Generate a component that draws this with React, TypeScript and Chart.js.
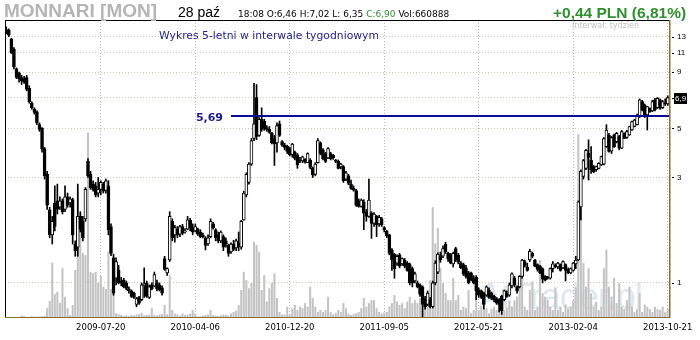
import React, { useEffect, useRef } from 'react';
import { Chart, registerables } from 'chart.js';

Chart.register(...registerables);

// ---- data (weekly candles, oldest first) ----
const START_DATE = '2008-11-03';

const OPEN = [
  14.0, 13.9, 12.7, 11.4, 9.3, 8.9, 8.5, 8.4, 8.5, 7.6,
  6.5, 6.1, 5.95, 5.2, 5.0, 4.05, 3.1, 2.14, 1.65, 2.3,
  2.35, 2.2, 2.35, 2.15, 2.45, 2.3, 2.38, 1.5, 1.45, 2.0,
  1.9, 1.95, 3.55, 3.1, 2.8, 2.75, 2.55, 2.65, 2.8, 2.62,
  2.75, 1.8, 1.3, 1.05, 1.14, 1.02, 1.03, 1.0, 0.94, 0.92,
  0.9, 0.8, 0.86, 0.84, 0.97, 1.0, 0.86, 0.98, 0.97, 1.0,
  0.98, 0.95, 1.29, 1.11, 1.27, 1.9, 1.65, 1.75, 1.66, 1.8,
  1.7, 1.75, 1.92, 1.78, 1.72, 1.75, 1.7, 1.65, 1.6, 1.5,
  1.62, 1.85, 1.74, 1.65, 1.55, 1.62, 1.55, 1.48, 1.38, 1.5,
  1.44, 1.52, 1.45, 1.93, 2.5, 2.85, 3.45, 4.5, 6.9, 4.65,
  5.5, 5.4, 5.05, 4.95, 4.75, 4.5, 4.3, 5.25, 4.36, 4.2,
  4.15, 4.05, 3.8, 3.9, 3.8, 3.6, 3.56, 3.62, 3.5, 3.6,
  3.3, 3.1, 3.5, 4.3, 4.0, 3.85, 3.68, 3.85, 3.78, 3.6,
  3.55, 3.35, 3.36, 2.95, 3.05, 2.8, 2.68, 2.62, 2.35, 2.22,
  2.32, 2.1, 2.0, 2.07, 1.86, 2.0, 1.85, 1.95, 1.78, 1.71,
  1.65, 1.41, 1.35, 1.23, 1.34, 1.22, 1.27, 1.23, 1.21, 1.16,
  1.02, 1.0, 0.98, 0.96, 0.85, 0.8, 0.84, 0.78, 1.0, 1.12,
  1.33, 1.32, 1.5, 1.36, 1.34, 1.22, 1.43, 1.34, 1.23, 1.21,
  1.17, 1.11, 1.11, 1.05, 1.06, 0.93, 0.92, 0.9, 0.88, 0.93,
  0.9, 0.87, 0.85, 0.84, 0.87, 0.84, 0.9, 0.88, 0.97, 1.05,
  0.96, 0.96, 1.07, 1.25, 1.18, 1.27, 1.36, 1.27, 1.21, 1.19,
  1.16, 1.07, 1.06, 1.05, 1.16, 1.2, 1.18, 1.21, 1.17, 1.21,
  1.15, 1.11, 1.14, 1.22, 1.27, 2.21, 3.03, 3.3, 3.86, 3.6,
  3.36, 3.25, 3.3, 3.42, 3.45, 4.14, 4.67, 3.95, 4.67, 4.36,
  4.59, 4.07, 4.75, 4.55, 4.67, 4.92, 5.1, 5.2, 5.66, 6.62,
  6.39, 5.76, 6.17, 6.0, 6.73, 6.2, 6.73, 6.2, 6.5, 6.46,
];

const HIGH = [
  14.4, 14.1, 12.8, 11.6, 9.4, 9.0, 8.7, 8.6, 8.7, 7.8,
  6.6, 6.2, 6.0, 5.3, 5.05, 4.1, 3.2, 2.2, 2.0, 2.75,
  2.8, 2.45, 2.4, 2.75, 2.55, 2.45, 2.42, 1.55, 2.8, 2.1,
  2.0, 2.7, 3.65, 3.2, 2.9, 2.85, 3.0, 2.9, 2.85, 2.95,
  2.9, 1.85, 1.35, 1.3, 1.2, 1.06, 1.05, 1.02, 0.96, 0.93,
  0.91, 0.86, 0.87, 1.0, 1.17, 1.02, 0.98, 1.0, 1.12, 1.03,
  1.0, 0.97, 1.32, 1.17, 2.1, 1.95, 1.82, 1.8, 1.82, 1.84,
  1.76, 2.0, 1.96, 1.85, 1.85, 1.77, 1.74, 1.68, 1.62, 1.65,
  1.95, 1.88, 1.76, 1.7, 1.72, 1.65, 1.6, 1.5, 1.52, 1.56,
  1.58, 1.7, 1.92, 2.6, 3.15, 3.5, 4.5, 8.0, 7.9, 5.6,
  6.2, 5.5, 5.15, 5.1, 4.8, 4.65, 5.3, 5.4, 4.4, 4.28,
  4.2, 4.1, 4.28, 3.95, 3.85, 3.7, 3.75, 3.65, 3.88, 3.65,
  3.35, 3.5, 4.5, 4.35, 4.05, 3.9, 4.1, 3.9, 3.82, 3.62,
  3.6, 3.48, 3.4, 3.2, 3.1, 2.92, 2.75, 2.65, 2.4, 2.4,
  2.38, 2.15, 2.95, 2.1, 2.08, 2.02, 2.02, 1.98, 1.8, 1.73,
  1.66, 1.43, 1.36, 1.34, 1.36, 1.3, 1.29, 1.25, 1.23, 1.18,
  1.12, 1.02, 0.99, 0.97, 0.87, 0.92, 0.86, 1.02, 1.26, 1.37,
  1.38, 1.47, 1.53, 1.38, 1.36, 1.38, 1.45, 1.36, 1.25, 1.23,
  1.2, 1.13, 1.12, 1.08, 1.08, 0.95, 0.93, 0.91, 0.97, 0.95,
  0.91, 0.88, 0.86, 0.85, 0.88, 0.93, 0.92, 1.0, 1.11, 1.07,
  0.97, 1.08, 1.28, 1.27, 1.23, 1.42, 1.38, 1.28, 1.22, 1.2,
  1.17, 1.08, 1.07, 1.17, 1.25, 1.22, 1.24, 1.22, 1.26, 1.22,
  1.17, 1.17, 1.24, 1.32, 2.35, 3.25, 3.62, 4.02, 4.44, 4.14,
  3.4, 3.38, 3.5, 3.75, 4.55, 5.2, 4.75, 4.6, 4.72, 4.8,
  4.65, 4.9, 4.78, 4.9, 5.12, 5.4, 5.5, 5.8, 6.8, 6.7,
  6.45, 6.3, 6.2, 6.7, 6.85, 6.9, 6.8, 6.7, 6.8, 7.02,
];

const LOW = [
  13.4, 13.0, 10.9, 9.3, 8.4, 8.1, 7.9, 8.0, 7.4, 6.5,
  6.1, 5.8, 5.2, 4.85, 3.9, 2.95, 2.15, 1.6, 1.5, 1.72,
  2.05, 2.15, 2.05, 2.1, 2.2, 2.2, 1.5, 1.32, 1.32, 1.7,
  1.55, 1.9, 3.0, 2.65, 2.6, 2.45, 2.45, 2.5, 2.55, 2.55,
  1.65, 1.33, 0.88, 0.98, 0.99, 0.97, 0.95, 0.93, 0.9, 0.86,
  0.85, 0.78, 0.8, 0.83, 0.86, 0.86, 0.85, 0.93, 0.96, 0.92,
  0.92, 0.88, 1.14, 1.08, 1.25, 1.55, 1.53, 1.6, 1.62, 1.65,
  1.68, 1.74, 1.72, 1.65, 1.7, 1.64, 1.6, 1.6, 1.41, 1.48,
  1.6, 1.75, 1.55, 1.52, 1.52, 1.4, 1.45, 1.32, 1.36, 1.4,
  1.4, 1.4, 1.42, 1.92, 2.45, 2.8, 3.4, 4.4, 4.45, 4.6,
  4.85, 4.9, 4.85, 4.75, 4.25, 3.4, 3.9, 4.6, 4.15, 4.0,
  3.85, 3.75, 3.7, 3.6, 3.3, 3.5, 3.5, 3.48, 3.5, 3.28,
  3.0, 3.05, 3.48, 3.8, 3.6, 3.5, 3.65, 3.6, 3.62, 3.5,
  3.28, 3.28, 2.85, 2.9, 2.78, 2.65, 2.6, 2.22, 2.2, 2.2,
  1.74, 1.9, 1.98, 1.59, 1.8, 1.62, 1.8, 1.8, 1.7, 1.6,
  1.34, 1.14, 1.05, 1.2, 1.17, 1.2, 1.17, 1.13, 0.98, 0.96,
  1.0, 0.95, 0.87, 0.7, 0.76, 0.79, 0.77, 0.77, 0.98, 1.1,
  1.24, 1.3, 1.36, 1.25, 1.22, 1.18, 1.25, 1.22, 1.16, 1.08,
  1.05, 0.99, 1.02, 0.99, 0.84, 0.86, 0.85, 0.76, 0.87, 0.85,
  0.84, 0.82, 0.8, 0.74, 0.72, 0.83, 0.86, 0.87, 0.95, 0.96,
  0.9, 0.95, 1.05, 1.18, 1.13, 1.25, 1.3, 1.18, 1.13, 1.1,
  1.0, 1.02, 1.04, 1.04, 1.12, 1.17, 1.16, 1.13, 1.16, 1.02,
  1.1, 1.1, 1.13, 1.16, 1.26, 1.93, 2.95, 3.25, 2.92, 3.13,
  3.15, 3.2, 3.28, 3.4, 3.42, 4.1, 3.9, 3.85, 4.1, 4.3,
  4.0, 4.05, 4.5, 4.5, 4.65, 4.9, 5.08, 5.18, 5.6, 6.0,
  5.6, 4.92, 5.9, 5.95, 6.0, 6.15, 6.1, 6.15, 6.35, 6.35,
];

const CLOSE = [
  13.6, 13.2, 11.0, 9.5, 8.5, 8.4, 8.2, 8.1, 7.5, 6.6,
  6.2, 5.9, 5.3, 4.95, 4.05, 3.05, 2.25, 1.65, 1.9, 1.8,
  2.15, 2.35, 2.1, 2.45, 2.25, 2.4, 1.65, 1.4, 2.0, 1.75,
  1.6, 2.65, 3.05, 2.7, 2.65, 2.5, 2.65, 2.85, 2.6, 2.9,
  1.74, 1.36, 0.9, 1.25, 1.0, 1.0, 0.96, 0.945, 0.92, 0.87,
  0.86, 0.85, 0.81, 0.98, 0.99, 0.87, 0.96, 0.94, 1.09, 0.94,
  0.93, 0.9, 1.15, 1.16, 2.0, 1.6, 1.78, 1.65, 1.8, 1.68,
  1.72, 1.93, 1.78, 1.7, 1.8, 1.66, 1.62, 1.62, 1.48, 1.6,
  1.9, 1.78, 1.6, 1.55, 1.7, 1.45, 1.5, 1.36, 1.5, 1.42,
  1.55, 1.45, 1.9, 2.55, 3.1, 3.45, 4.4, 5.25, 4.6, 5.5,
  4.95, 5.0, 4.95, 4.8, 4.3, 4.25, 5.15, 4.65, 4.2, 4.1,
  3.93, 3.8, 4.25, 3.66, 3.42, 3.56, 3.72, 3.52, 3.85, 3.33,
  3.08, 3.45, 4.4, 3.85, 3.65, 3.55, 4.05, 3.65, 3.68, 3.55,
  3.3, 3.45, 2.9, 3.15, 2.82, 2.68, 2.63, 2.25, 2.22, 2.37,
  2.07, 2.0, 2.37, 1.86, 2.05, 1.83, 1.98, 1.83, 1.74, 1.63,
  1.36, 1.27, 1.16, 1.32, 1.19, 1.29, 1.19, 1.14, 1.0, 1.0,
  1.1, 0.96, 0.89, 0.8, 0.78, 0.9, 0.78, 1.0, 1.23, 1.35,
  1.27, 1.43, 1.38, 1.28, 1.23, 1.36, 1.27, 1.24, 1.17, 1.1,
  1.07, 1.0, 1.03, 1.0, 0.92, 0.88, 0.86, 0.8, 0.96, 0.86,
  0.85, 0.84, 0.81, 0.8, 0.75, 0.92, 0.87, 0.98, 1.1, 0.98,
  0.92, 1.07, 1.27, 1.19, 1.14, 1.39, 1.32, 1.19, 1.15, 1.11,
  1.04, 1.03, 1.05, 1.16, 1.22, 1.18, 1.23, 1.14, 1.25, 1.14,
  1.11, 1.16, 1.23, 1.27, 2.33, 3.2, 3.58, 3.98, 3.7, 3.25,
  3.19, 3.36, 3.48, 3.73, 4.5, 4.92, 3.93, 4.55, 4.14, 4.75,
  4.07, 4.84, 4.51, 4.84, 5.1, 5.37, 5.46, 5.72, 6.73, 6.06,
  5.66, 6.28, 5.95, 6.62, 6.06, 6.85, 6.17, 6.62, 6.45, 6.9,
];

// volume, in units where VOLUME_MAX fills the whole plot height
const VOLUME = [
  2, 2, 2, 3, 2, 3, 8, 6, 2, 5,
  6, 4, 5, 5, 6, 8, 33, 57, 186, 80,
  88, 51, 168, 71, 33, 10, 44, 161, 427, 352,
  218, 211, 623, 155, 150, 155, 118, 141, 105, 97,
  222, 97, 105, 16, 13, 10, 7, 9, 7, 10,
  8, 12, 13, 18, 9, 10, 12, 33, 10, 8,
  12, 14, 44, 12, 144, 27, 15, 12, 8, 15,
  10, 12, 15, 27, 15, 5, 6, 8, 10, 12,
  27, 10, 8, 7, 9, 12, 10, 8, 15, 20,
  25, 44, 94, 155, 127, 100, 117, 256, 245, 222,
  94, 144, 55, 100, 117, 150, 67, 20, 12, 12,
  38, 12, 33, 44, 27, 38, 33, 50, 38, 105,
  67, 38, 20, 27, 20, 27, 71, 20, 12, 18,
  27, 20, 50, 33, 15, 10, 13, 16, 20, 33,
  67, 38, 50, 60, 60, 33, 20, 15, 18, 20,
  38, 50, 77, 55, 44, 50, 33, 55, 71, 50,
  60, 50, 67, 44, 60, 84, 127, 372, 251, 302,
  168, 117, 84, 60, 60, 134, 60, 77, 27, 38,
  33, 94, 16, 27, 94, 27, 40, 27, 33, 16,
  30, 38, 27, 38, 60, 27, 33, 60, 38, 60,
  72, 105, 139, 38, 27, 94, 122, 27, 38, 195,
  83, 72, 60, 38, 27, 103, 27, 38, 20, 45,
  30, 38, 60, 103, 617, 369, 184, 105, 167, 83,
  38, 55, 27, 38, 167, 230, 105, 72, 134, 50,
  117, 38, 30, 60, 105, 38, 20, 30, 83, 20,
  45, 38, 30, 20, 38, 30, 27, 38, 20, 30,
];
const VOLUME_MAX = 1000;

const TICK_INDEX = [37, 74, 111, 148, 185, 222, 259];
const TICK_LABELS = ['2009-07-20', '2010-04-06', '2010-12-20', '2011-09-05', '2012-05-21', '2013-02-04', '2013-10-21'];
const PRICE_TICKS = [1, 3, 5, 6.9, 9, 11, 13];
const PRICE_MIN = 0.694;
const PRICE_MAX = 15.47;

const LEVEL_VALUE = 5.69;
const LEVEL_LABEL = '5,69';
const LEVEL_FROM_INDEX = 88;
const LAST_LABEL = '6,9';

const CATEGORIES = OPEN.map((_, i) => {
  const d = new Date(START_DATE + 'T00:00:00Z');
  d.setUTCDate(d.getUTCDate() + 7 * i);
  return d.toISOString().slice(0, 10);
});

const decorPlugin = {
  id: 'decor',
  afterDatasetsDraw(chart: any) {
    const { ctx, chartArea: a, scales } = chart;
    const ys = scales.y;
    const xs = scales.x;
    const ly = ys.getPixelForValue(LEVEL_VALUE);
    const lx = xs.getPixelForValue(LEVEL_FROM_INDEX);
    ctx.save();
    ctx.fillStyle = '#0b0b98';
    ctx.fillRect(lx, Math.round(ly) - 1, a.right - lx, 2);
    ctx.font = 'bold 11px "DejaVu Sans"';
    ctx.textAlign = 'right';
    ctx.textBaseline = 'alphabetic';
    ctx.fillStyle = '#1c1c8e';
    ctx.fillText(LEVEL_LABEL, lx - 8, Math.round(ly) + 5);
    ctx.restore();
  },
  afterDraw(chart: any) {
    const { ctx, chartArea: a, scales } = chart;
    const ys = scales.y;
    ctx.save();
    // frame
    ctx.fillStyle = '#000';
    ctx.fillRect(a.left, a.top, a.right - a.left, 1);
    ctx.fillRect(a.left, a.top, 1, a.bottom - a.top);
    ctx.fillStyle = '#8e6d2c';
    ctx.fillRect(a.left, a.bottom - 1, a.right - a.left + 1, 1);
    ctx.fillRect(a.right, a.top, 1.5, a.bottom - a.top);
    // tick marks on the right axis
    ctx.fillStyle = '#000';
    for (const t of ys.ticks) {
      const py = Math.round(ys.getPixelForValue(t.value));
      ctx.fillRect(a.right + 3, py, 2, 1);
    }
    // last price box
    const last = CLOSE[CLOSE.length - 1];
    const py = Math.round(ys.getPixelForValue(last));
    ctx.fillStyle = '#000';
    ctx.fillRect(a.right + 5, py - 5, 13, 11);
    ctx.fillStyle = '#fff';
    ctx.font = '8px "Liberation Sans"';
    ctx.textAlign = 'left';
    ctx.textBaseline = 'alphabetic';
    ctx.fillText(LAST_LABEL, a.right + 6, py + 3);
    ctx.restore();
  },
};

export default function App() {
  const ref = useRef<HTMLCanvasElement>(null);

  useEffect(() => {
    document.body.style.margin = '0';
    Chart.defaults.font.family = '"DejaVu Sans", sans-serif';
    const wick = LOW.map((l, i) => [l, HIGH[i]]);
    const body = OPEN.map((o, i) => [Math.min(o, CLOSE[i]), Math.max(o, CLOSE[i])]);
    const bodyColor = OPEN.map((o, i) => (CLOSE[i] >= o ? '#ffffff' : '#000000'));

    const chart = new Chart(ref.current as HTMLCanvasElement, {
      type: 'bar',
      data: {
        labels: CATEGORIES,
        datasets: [
          {
            label: 'Wolumen',
            data: VOLUME,
            yAxisID: 'yv',
            backgroundColor: '#c3c3c3',
            borderWidth: 0,
            categoryPercentage: 1,
            barPercentage: 0.8,
            grouped: false,
            order: 3,
          } as any,
          {
            label: 'Zakres',
            data: wick,
            yAxisID: 'y',
            backgroundColor: '#000',
            barThickness: 1,
            grouped: false,
            order: 2,
          } as any,
          {
            label: 'Kurs',
            data: body,
            yAxisID: 'y',
            backgroundColor: bodyColor,
            borderColor: '#000',
            borderWidth: 1,
            borderSkipped: false,
            barThickness: 3,
            minBarLength: 1,
            grouped: false,
            order: 1,
          } as any,
        ],
      },
      options: {
        responsive: false,
        animation: false,
        devicePixelRatio: 1,
        layout: { padding: { left: 5, top: 20, right: 0, bottom: 0 } },
        plugins: { legend: { display: false }, tooltip: { enabled: false } },
        scales: {
          x: {
            type: 'category',
            offset: true,
            grid: { display: true, offset: false, color: '#b8b8b8', drawTicks: false, lineWidth: 1 },
            border: { display: false, dash: [1, 2] },
            ticks: {
              autoSkip: false,
              maxRotation: 0,
              minRotation: 0,
              color: '#000',
              padding: 5,
              font: { size: 8.5, family: '"DejaVu Sans"' },
              callback: (v: any) => {
                const k = TICK_INDEX.indexOf(Number(v));
                return k >= 0 ? TICK_LABELS[k] : '';
              },
            },
            afterBuildTicks: (s: any) => {
              s.ticks = TICK_INDEX.map((v) => ({ value: v }));
            },
            afterFit: (s: any) => {
              s.height = 22;
            },
          } as any,
          y: {
            type: 'logarithmic',
            position: 'right',
            min: PRICE_MIN,
            max: PRICE_MAX,
            grid: { color: '#d8cbab', drawTicks: false, lineWidth: 1 },
            border: { display: false, dash: [1, 2] },
            ticks: {
              color: '#000',
              padding: 8,
              font: { size: 8, family: '"Liberation Sans"' },
              callback: (v: any) => (Number(v) === 6.9 ? '' : String(v)),
            },
            afterBuildTicks: (s: any) => {
              s.ticks = PRICE_TICKS.map((v) => ({ value: v }));
            },
            afterFit: (s: any) => {
              s.width = 31;
            },
          } as any,
          yv: {
            type: 'linear',
            display: false,
            min: 0,
            max: VOLUME_MAX,
          },
        },
      },
      plugins: [decorPlugin],
    } as any);
    return () => chart.destroy();
  }, []);

  const abs: React.CSSProperties = { position: 'absolute', whiteSpace: 'nowrap', zIndex: 2 };

  return (
    <div style={{ position: 'relative', width: 700, height: 340, background: '#fff', overflow: 'hidden' }}>
      <div
        style={{
          position: 'absolute', left: 478, top: 279, zIndex: 0, whiteSpace: 'nowrap',
          font: '36px "Liberation Sans"', lineHeight: '36px', letterSpacing: '-1px',
          color: 'rgba(150,185,195,0.32)',
        }}
      >
        AtTrader.pl
      </div>
      <canvas
        ref={ref}
        width={700}
        height={340}
        style={{ position: 'absolute', left: 0, top: 0, width: 700, height: 340, zIndex: 1 }}
      />
      <div style={{ ...abs, left: 4, top: 1, font: 'bold 19px "Liberation Sans"', lineHeight: '19px', color: '#b5b5b5' }}>
        MONNARI [MON]
      </div>
      <div style={{ ...abs, left: 178, top: 4.5, font: '14px "Liberation Sans"', lineHeight: '14px', color: '#000' }}>
        28 paź
      </div>
      <div style={{ ...abs, left: 238, top: 9.5, font: '9px "DejaVu Sans"', lineHeight: '9px', color: '#000' }}>
        18:08 O:6,46 H:7,02 L: 6,35 <span style={{ color: '#2f8f2f' }}>C:6,90</span> Vol:660888
      </div>
      <div style={{ ...abs, left: 553, top: 4.5, font: 'bold 15.5px "Liberation Sans"', lineHeight: '15.5px', color: '#2e902e' }}>
        +0,44 PLN (6,81%)
      </div>
      <div style={{ ...abs, left: 572, top: 21.5, font: '8px "DejaVu Sans"', lineHeight: '8px', color: '#c2c2c2' }}>
        Interwał: tydzień
      </div>
      <div style={{ ...abs, left: 159, top: 31, font: '10.8px "DejaVu Sans"', lineHeight: '10.8px', color: '#24248e' }}>
        Wykres 5-letni w interwale tygodniowym
      </div>
    </div>
  );
}
